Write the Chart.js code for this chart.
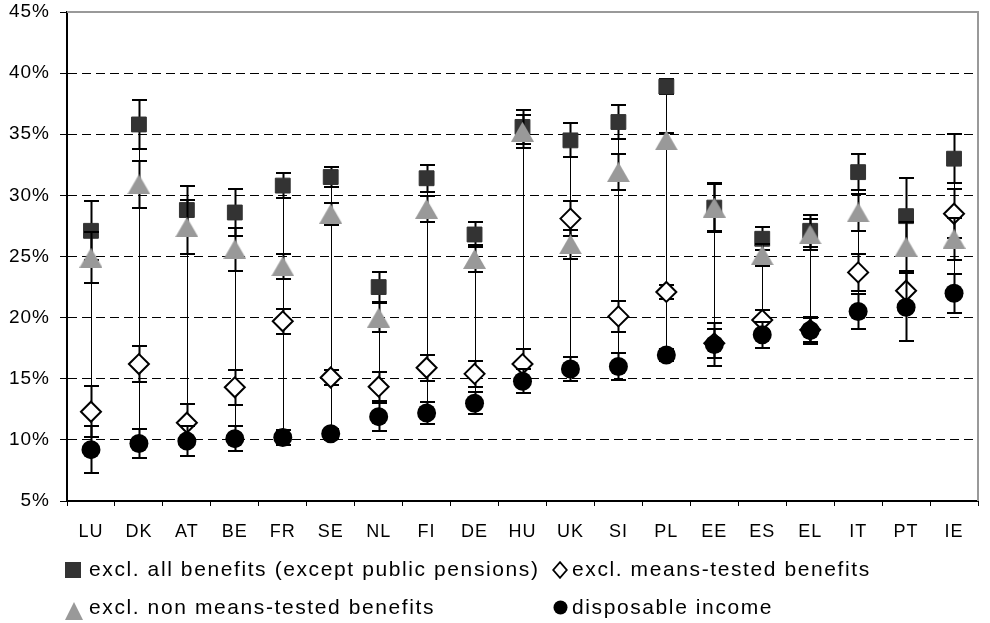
<!DOCTYPE html>
<html>
<head>
<meta charset="utf-8">
<script src="https://cdn.jsdelivr.net/npm/chart.js@4.4.0/dist/chart.umd.min.js"></script>
<style>
  body { margin: 0; background: #fff; }
  #wrap { position: relative; width: 990px; height: 623px; }
  .leg { position: absolute; font-family: "Liberation Sans", Arial, sans-serif; font-size: 21px;
         letter-spacing: 1.6px; line-height: 24px; color: #000; white-space: nowrap; }
  .mk { position: absolute; }
</style>
</head>
<body>
<div id="wrap">
  <canvas id="chart" width="990" height="623"></canvas>
  <div id="legend"></div>
</div>
<script>
// countries on the x axis
const categories = ['LU', 'DK', 'AT', 'BE', 'FR', 'SE', 'NL', 'FI', 'DE', 'HU', 'UK', 'SI', 'PL', 'EE', 'ES', 'EL', 'IT', 'PT', 'IE'];

// poverty rates (%) and confidence half-widths
const allBenefits = [27.1, 35.8, 28.8, 28.6, 30.8, 31.5, 22.5, 31.4, 26.8, 35.6, 34.5, 36.0, 38.9, 29.0, 26.45, 27.1, 31.9, 28.3, 33.0];
const allBenefitsErr = [2.4, 2.0, 2.0, 1.9, 1.0, 0.85, 1.2, 1.1, 1.05, 1.4, 1.4, 1.4, 0.6, 1.95, 0.95, 1.3, 1.5, 3.1, 2.0];

const meansTested = [12.3, 16.2, 11.4, 14.3, 19.7, 15.1, 14.35, 15.9, 15.4, 16.2, 28.1, 20.1, 22.1, 17.9, 19.8, 19.0, 23.7, 22.2, 28.5];
const meansTestedErr = [2.1, 1.5, 1.5, 1.45, 1.0, 0.65, 1.2, 1.05, 1.05, 1.2, 1.4, 1.3, 0.55, 1.2, 0.8, 1.0, 1.5, 1.5, 2.0];

const nonMeansTested = [24.9, 30.9, 27.4, 25.6, 24.2, 28.5, 20.0, 28.9, 24.8, 35.2, 26.0, 31.9, 34.5, 29.0, 25.1, 26.8, 28.6, 25.8, 26.45];
const nonMeansTestedErr = [2.1, 1.95, 2.2, 1.75, 1.0, 0.9, 1.2, 1.05, 1.1, 1.35, 1.2, 1.5, 0.6, 2.0, 0.9, 1.25, 1.5, 2.0, 1.7];

const disposable = [9.2, 9.7, 9.9, 10.1, 10.2, 10.5, 11.9, 12.2, 13.0, 14.8, 15.8, 16.0, 16.95, 17.8, 18.6, 18.95, 20.5, 20.85, 22.0];
const disposableErr = [1.9, 1.15, 1.2, 1.05, 0.6, 0.4, 1.15, 0.9, 0.9, 1.0, 1.0, 1.1, 0.5, 1.75, 1.05, 1.1, 1.4, 2.8, 1.6];

const yTicks = [5, 10, 15, 20, 25, 30, 35, 40, 45];

// grey triangle marker, centred on its bounding box like the original
const tri = document.createElement('canvas');
tri.width = 23; tri.height = 20;
const tctx = tri.getContext('2d');
tctx.fillStyle = '#999999';
tctx.beginPath(); tctx.moveTo(11.5, 0); tctx.lineTo(23, 20); tctx.lineTo(0, 20); tctx.closePath(); tctx.fill();

// high-low lines, error bars and the grey frame
const errorBars = {
    id: 'errorBars',
    beforeDraw(chart) {
        chart.ctx.letterSpacing = '1px';
    },
    beforeDatasetsDraw(chart) {
        const { ctx, chartArea: a, scales: { x, y } } = chart;
        ctx.save();
        ctx.strokeStyle = '#999';
        ctx.lineWidth = 2;
        ctx.beginPath();
        ctx.moveTo(a.left, a.top);
        ctx.lineTo(a.right, a.top);
        ctx.lineTo(a.right, a.bottom);
        ctx.stroke();

        ctx.strokeStyle = '#000';
        ctx.lineWidth = 1;
        categories.forEach((c, i) => {
            const vals = chart.data.datasets.map(d => d.data[i]);
            const px = Math.round(x.getPixelForValue(i)) + 0.5;
            ctx.beginPath();
            ctx.moveTo(px, y.getPixelForValue(Math.max(...vals)));
            ctx.lineTo(px, y.getPixelForValue(Math.min(...vals)));
            ctx.stroke();
        });
        ctx.restore();
    },
    beforeDatasetDraw(chart, args) {
        const ds = chart.data.datasets[args.index];
        const { ctx, scales: { x, y } } = chart;
        ctx.save();
        ctx.strokeStyle = '#000';
        ctx.lineWidth = 2;
        ds.data.forEach((v, i) => {
            const px = Math.round(x.getPixelForValue(i)) + 0.5;
            const top = Math.round(y.getPixelForValue(v + ds.errors[i]));
            const bot = Math.round(y.getPixelForValue(v - ds.errors[i]));
            ctx.beginPath();
            ctx.moveTo(px, top); ctx.lineTo(px, bot);
            ctx.moveTo(px - 7.5, top); ctx.lineTo(px + 7.5, top);
            ctx.moveTo(px - 7.5, bot); ctx.lineTo(px + 7.5, bot);
            ctx.stroke();
        });
        ctx.restore();
    }
};

Chart.defaults.font.family = '"Liberation Sans", Arial, sans-serif';
Chart.defaults.color = '#000';

const chart = new Chart(document.getElementById('chart'), {
    type: 'line',
    data: {
        labels: categories,
        datasets: [
            {
                label: 'excl. all benefits (except public pensions)',
                data: allBenefits, errors: allBenefitsErr,
                pointStyle: 'rect', pointRadius: 10.5, borderWidth: 1,
                backgroundColor: '#333333', borderColor: '#333333', order: 4
            },
            {
                label: 'excl. means-tested benefits',
                data: meansTested, errors: meansTestedErr,
                pointStyle: 'rectRot', pointRadius: 10, borderWidth: 2,
                backgroundColor: '#ffffff', borderColor: '#000000', order: 3
            },
            {
                label: 'excl. non means-tested benefits',
                data: nonMeansTested, errors: nonMeansTestedErr,
                pointStyle: tri, pointRadius: 11,
                backgroundColor: '#999999', borderColor: '#999999', order: 2
            },
            {
                label: 'disposable income',
                data: disposable, errors: disposableErr,
                pointStyle: 'circle', pointRadius: 9.5, borderWidth: 0,
                backgroundColor: '#000000', borderColor: '#000000', order: 1
            }
        ]
    },
    options: {
        responsive: false,
        animation: false,
        events: [],
        devicePixelRatio: 1,
        showLine: false,
        layout: { padding: { left: 0, top: 12, right: 2, bottom: 82 } },
        plugins: { legend: { display: false }, tooltip: { enabled: false } },
        scales: {
            x: {
                offset: true,
                grid: { display: true, drawOnChartArea: false, drawTicks: true, tickLength: 5, offset: true, color: '#000' },
                border: { display: true, color: '#000', width: 2 },
                ticks: { font: { size: 18 }, padding: 15, maxRotation: 0, autoSkip: false },
                afterFit: s => { s.height = 40; s.paddingLeft = 0; s.paddingRight = 0; }
            },
            y: {
                min: 5, max: 45,
                afterBuildTicks: s => { s.ticks = yTicks.map(v => ({ value: v })); },
                grid: {
                    color: c => (c.tick && (c.tick.value === 45 || c.tick.value === 5)) ? 'rgba(0,0,0,0)' : '#000',
                    tickColor: '#000', tickLength: 7, lineWidth: 1
                },
                border: { display: true, color: '#000', width: 2, dash: [9, 5] },
                ticks: { font: { size: 19 }, padding: 10, callback: v => v + '%' },
                afterFit: s => { s.width = 67; s.paddingTop = 0; s.paddingBottom = 0; }
            }
        }
    },
    plugins: [errorBars]
});

// legend, two rows of two items like the original
const legendPos = [
    { left: 89, top: 557, mk: [65, 562] },
    { left: 572, top: 557, mk: [552, 561] },
    { left: 89, top: 595, mk: [65, 602] },
    { left: 572, top: 595, mk: [553, 600] }
];
const markers = [
    '<svg width="16" height="16"><rect width="16" height="16" fill="#333"/></svg>',
    '<svg width="16" height="18"><path d="M8 1.2 L14.8 9 L8 16.8 L1.2 9 Z" fill="#fff" stroke="#000" stroke-width="1.8"/></svg>',
    '<svg width="18" height="18"><path d="M9 0 L18 18 L0 18 Z" fill="#999"/></svg>',
    '<svg width="15" height="15"><circle cx="7.5" cy="7.5" r="7" fill="#000"/></svg>'
];
const legendEl = document.getElementById('legend');
chart.data.datasets.forEach((ds, i) => {
    const p = legendPos[i];
    legendEl.insertAdjacentHTML('beforeend',
        '<div class="mk" style="left:' + p.mk[0] + 'px;top:' + p.mk[1] + 'px">' + markers[i] + '</div>' +
        '<div class="leg" style="left:' + p.left + 'px;top:' + p.top + 'px">' + ds.label + '</div>');
});
</script>
</body>
</html>
